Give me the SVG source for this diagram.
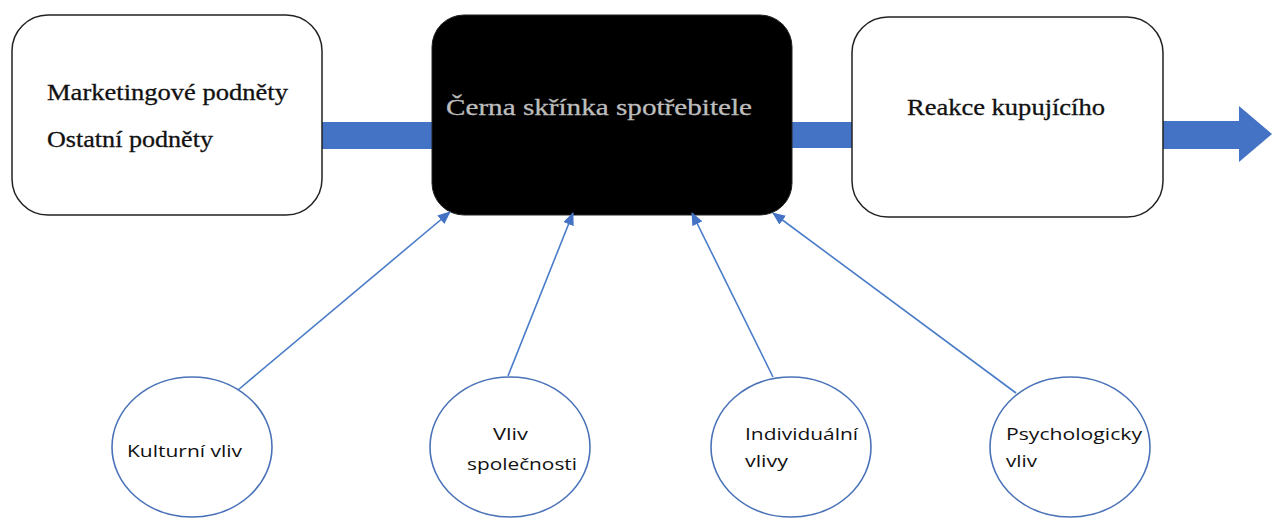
<svg xmlns="http://www.w3.org/2000/svg" width="1279" height="520" viewBox="0 0 1279 520">
<style>
.box{fill:#fff;stroke:#222;stroke-width:1.5}
.dark{fill:#000;stroke:#222;stroke-width:1}
.bar{fill:#4472C4}
.serif{font-family:"Liberation Serif","Times New Roman",serif;font-size:24px;fill:#111;stroke:#111;stroke-width:0.3}
.light{fill:#bdbdbd;stroke:#bdbdbd}
.sans{font-family:"Open Sans","Liberation Sans",sans-serif;font-size:17px;fill:#111}
.circ{fill:#fff;stroke:#4A72B8;stroke-width:1.6}
.conn{stroke:#4A7CC8;stroke-width:1.6;fill:none}
</style>
<defs>
<marker id="ah" markerWidth="13" markerHeight="11" refX="12" refY="5.5" orient="auto" markerUnits="userSpaceOnUse">
<path d="M0,0 L13,5.5 L0,11 Z" fill="#4472C4"/>
</marker>
</defs>
<rect width="1279" height="520" fill="#fff"/>
<g id="bars">
<rect class="bar" x="320" y="122" width="115" height="27"/>
<rect class="bar" x="790" y="122" width="65" height="26"/>
<path class="bar" d="M1161,121 H1239 V106 L1272,134 L1239,162 V149 H1161 Z"/>
</g>
<g id="node-inputs">
<rect class="box" x="12" y="15" width="310" height="200" rx="36"/>
<text class="serif" x="47" y="100" textLength="241" lengthAdjust="spacingAndGlyphs">Marketingové podněty</text>
<text class="serif" x="47" y="147" textLength="166" lengthAdjust="spacingAndGlyphs">Ostatní podněty</text>
</g>
<g id="node-blackbox">
<rect class="dark" x="432" y="15" width="360" height="200" rx="32"/>
<text class="serif light" x="446" y="115" textLength="306" lengthAdjust="spacingAndGlyphs">Černa  skřínka spotřebitele</text>
</g>
<g id="node-reaction">
<rect class="box" x="852" y="17" width="311" height="200" rx="36"/>
<text class="serif" x="907" y="115" textLength="198" lengthAdjust="spacingAndGlyphs">Reakce kupujícího</text>
</g>
<g id="connectors">
<line class="conn" x1="238" y1="390" x2="450" y2="212" marker-end="url(#ah)"/>
<line class="conn" x1="508" y1="376" x2="573" y2="213" marker-end="url(#ah)"/>
<line class="conn" x1="773" y1="377" x2="692" y2="213" marker-end="url(#ah)"/>
<line class="conn" x1="1016" y1="393" x2="773" y2="213" marker-end="url(#ah)"/>
</g>
<g id="node-kulturni">
<ellipse class="circ" cx="192" cy="447" rx="80" ry="70"/>
<text class="sans" x="127" y="457" textLength="115" lengthAdjust="spacingAndGlyphs">Kulturní vliv</text>
</g>
<g id="node-spolecnost">
<ellipse class="circ" cx="510" cy="447" rx="80" ry="70"/>
<text class="sans" x="493" y="440" textLength="35" lengthAdjust="spacingAndGlyphs">Vliv</text>
<text class="sans" x="467" y="470" textLength="110" lengthAdjust="spacingAndGlyphs">společnosti</text>
</g>
<g id="node-individualni">
<ellipse class="circ" cx="791" cy="447" rx="80" ry="70"/>
<text class="sans" x="745" y="440" textLength="113" lengthAdjust="spacingAndGlyphs">Individuální</text>
<text class="sans" x="745" y="467" textLength="43" lengthAdjust="spacingAndGlyphs">vlivy</text>
</g>
<g id="node-psychologicky">
<ellipse class="circ" cx="1070" cy="447" rx="80" ry="70"/>
<text class="sans" x="1006" y="440" textLength="136" lengthAdjust="spacingAndGlyphs">Psychologicky</text>
<text class="sans" x="1006" y="467" textLength="31" lengthAdjust="spacingAndGlyphs">vliv</text>
</g>
</svg>
